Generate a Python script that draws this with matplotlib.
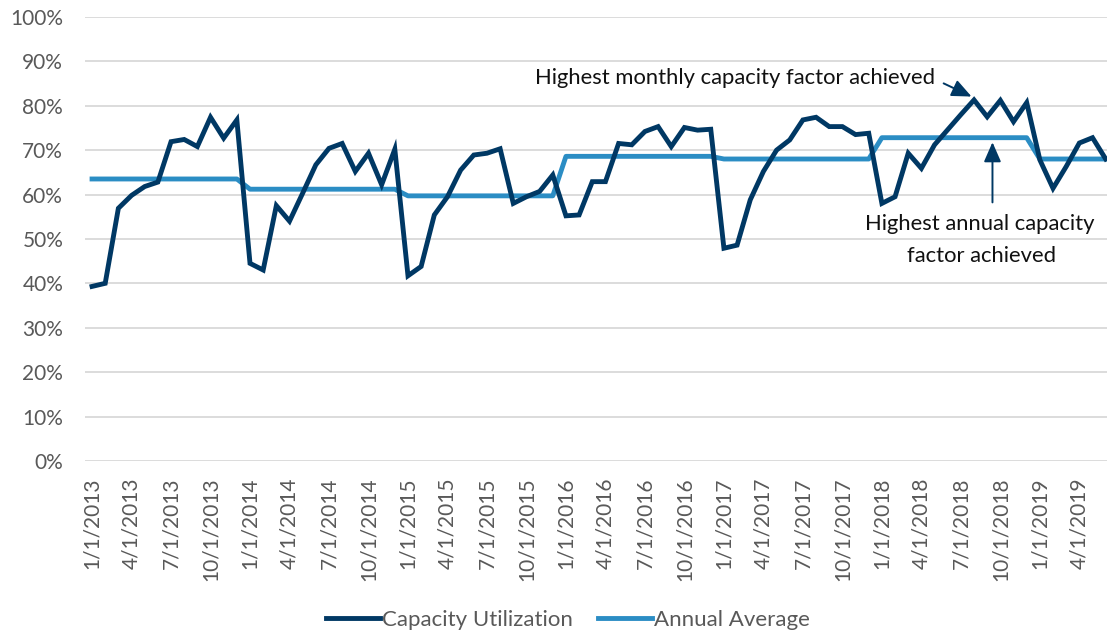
import matplotlib.pyplot as plt
import numpy

plt.rcParams["font.family"] = ["Lato", "DejaVu Sans"]

# monthly capacity utilization (%), Jan 2013 .. Jun 2019
utilization = [
    39.3, 40.0, 56.9, 59.8, 61.8, 62.8, 71.9, 72.4, 70.8, 77.4, 72.7, 76.8,
    44.5, 43.0, 57.5, 54.0, 60.3, 66.7, 70.4, 71.5, 65.2, 69.3, 62.2, 70.2,
    41.7, 43.8, 55.4, 59.5, 65.5, 68.9, 69.3, 70.3, 58.0, 59.5, 60.7, 64.4,
    55.2, 55.4, 62.9, 62.9, 71.5, 71.2, 74.2, 75.3, 70.8, 75.1, 74.5, 74.7,
    47.9, 48.6, 58.8, 65.2, 70.0, 72.3, 76.8, 77.4, 75.3, 75.3, 73.5, 73.8,
    58.0, 59.5, 69.3, 65.9, 71.2, 74.6, 78.0, 81.3, 77.5, 81.2, 76.4, 80.7,
    67.8, 61.4, 66.3, 71.6, 72.8, 68.0,
]
years = [2013, 2014, 2015, 2016, 2017, 2018, 2019]
annual_average = [63.5, 61.2, 59.7, 68.6, 68.0, 72.8, 68.0]

dark = "#003864"
light = "#2B8DC4"
grey = "#595959"


def main():
    n = len(utilization)
    x = numpy.arange(n)
    util = numpy.array(utilization) / 100
    avg = numpy.array([annual_average[i // 12] for i in range(n)]) / 100

    labels = [f"{(i % 12) + 1}/1/{years[i // 12]}" for i in range(0, n, 3)]

    fig = plt.figure(figsize=(11.07, 6.34), dpi=100)
    ax = fig.add_axes([0.0772, 0.273, 0.9228, 0.7003])

    ax.plot(x, util, color=dark, linewidth=3.5, label="Capacity Utilization",
            solid_joinstyle="miter", zorder=3)
    ax.plot(x, avg, color=light, linewidth=3.5, label="Annual Average", zorder=2)

    ax.set_ylim(0, 1)
    ax.set_xlim(-0.5, 77.1)
    ax.set_yticks(numpy.arange(0, 1.01, 0.1))
    ax.set_yticklabels([f"{int(round(v * 100))}%" for v in numpy.arange(0, 1.01, 0.1)])
    ax.set_xticks(numpy.arange(0, n, 3))
    ax.set_xticklabels(labels, rotation=90)
    ax.tick_params(axis="y", length=0, pad=16, labelsize=15, labelcolor=grey)
    ax.tick_params(axis="x", length=0, pad=12, labelsize=15, labelcolor=grey)
    ax.grid(axis="y", color="#D9D9D9", linewidth=1.3)
    ax.set_axisbelow(True)
    for s in ax.spines.values():
        s.set_visible(False)

    arrow = dict(arrowstyle="-|>,head_length=0.8,head_width=0.35",
                 color=dark, linewidth=1.4, mutation_scale=15)

    ax.annotate("", xy=(67.0, 0.818), xytext=(64.5, 0.853), arrowprops=arrow)
    ax.text(64.0, 0.863, "Highest monthly capacity factor achieved",
            ha="right", va="center", fontsize=15.8, color="#111111")

    ax.annotate("", xy=(68.4, 0.724), xytext=(68.4, 0.576), arrowprops=arrow)
    ax.text(67.4, 0.533, "Highest annual capacity", ha="center", va="center",
            fontsize=15.8, color="#111111")
    ax.text(67.6, 0.461, "factor achieved", ha="center", va="center",
            fontsize=15.8, color="#111111")

    fig.legend(loc="center", bbox_to_anchor=(0.513, 0.022), ncol=2, frameon=False,
               fontsize=16, handlelength=2.45, handletextpad=0.1,
               columnspacing=1.1, labelcolor=grey)

    fig.savefig("out.png", dpi=100)


if __name__ == "__main__":
    main()
